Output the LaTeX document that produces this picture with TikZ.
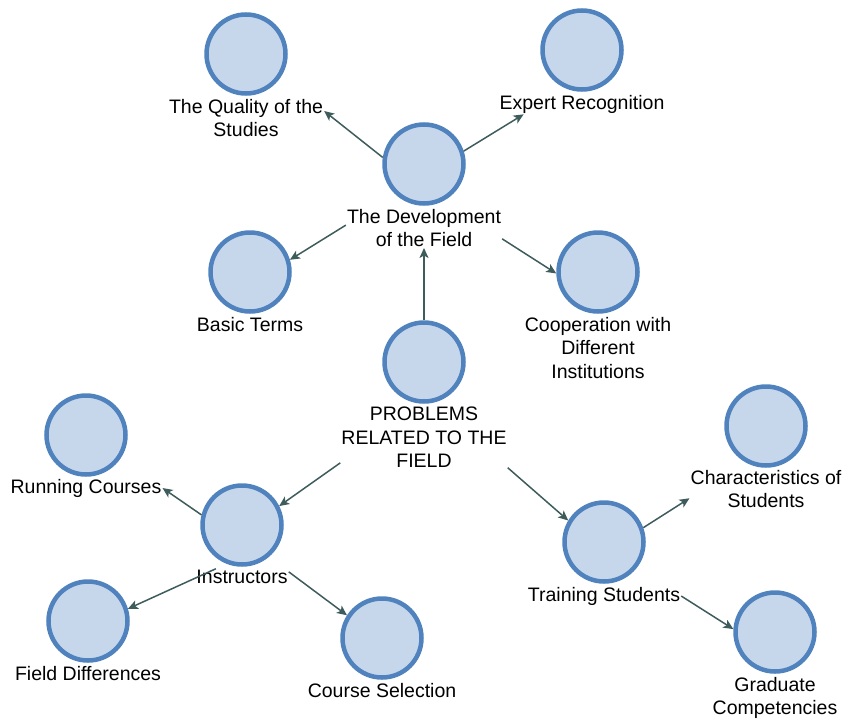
\documentclass[tikz,border=0pt]{standalone}
\usepackage{fontspec}
\setmainfont{Liberation Sans}
\usepackage{tikz}
\usetikzlibrary{arrows.meta, positioning}

\definecolor{conceptfill}{RGB}{198,215,235}
\definecolor{conceptline}{RGB}{80,130,190}
\definecolor{linkcolor}{RGB}{62,92,92}

\begin{document}
\begin{tikzpicture}[
  x=1pt, y=-1pt,
  concept/.style={circle, draw=conceptline, fill=conceptfill, line width=4.5pt, minimum size=79pt, inner sep=0pt},
  caption/.style={align=center, inner sep=1pt, font=\fontsize{19.5}{23.5}\selectfont},
  link/.style={line width=1.5pt, draw=linkcolor, -{Stealth[length=10pt,width=9pt,inset=2.5pt]}}
]
\useasboundingbox (0,0) rectangle (845,720);

% upper part
\node (dev) [concept] at (424,164) {};
\node (devl) [caption, below=2pt of dev] {The Development\\of the Field};
\node (quality) [concept] at (246,54) {};
\node (qualityl) [caption, below=2pt of quality] {The Quality of the\\Studies};
\node (expert) [concept] at (582,50) {};
\node (expertl) [caption, below=2pt of expert] {Expert Recognition};
\node (basic) [concept] at (250,272) {};
\node (basicl) [caption, below=2pt of basic] {Basic Terms};
\node (coop) [concept] at (598,272) {};
\node (coopl) [caption, below=2pt of coop] {Cooperation with\\Different\\Institutions};

% centre
\node (prob) [concept] at (424,362) {};
\node (probl) [caption, below=2pt of prob] {PROBLEMS\\RELATED TO THE\\FIELD};

% lower left
\node (instr) [concept] at (242,525) {};
\node (instrl) [caption, below=2pt of instr] {Instructors};
\node (run) [concept] at (86,435) {};
\node (runl) [caption, below=1pt of run] {Running Courses};
\node (field) [concept] at (88,621) {};
\node (fieldl) [caption, below=2pt of field] {Field Differences};
\node (course) [concept] at (382,638) {};
\node (coursel) [caption, below=2pt of course] {Course Selection};

% lower right
\node (train) [concept] at (604,542) {};
\node (trainl) [caption, below=2pt of train] {Training Students};
\node (charac) [concept] at (766,426) {};
\node (characl) [caption, below=1pt of charac] {Characteristics of\\Students};
\node (grad) [concept] at (775,632) {};
\node (gradl) [caption, below=2pt of grad] {Graduate\\Competencies};

\draw [link] (dev.171) -- (qualityl.5);
\draw [link] (dev.18) -- (expertl.190);
\draw [link] (devl.178) -- (basic.17);
\draw [link] (devl.352) -- (coop.182);
\draw [link] (prob.north) -- (devl.south);
\draw [link] (probl.197) -- (instr.27);
\draw [link] (probl.340) -- (train.149);
\draw [link] (instr.166) -- (runl.east);
\draw [link] (instrl.163) -- (field.17);
\draw [link] (instrl.6) -- (course.147);
\draw [link] (train.20) -- (characl.187);
\draw [link] (trainl.east) -- (grad.176);

\end{tikzpicture}
\end{document}
